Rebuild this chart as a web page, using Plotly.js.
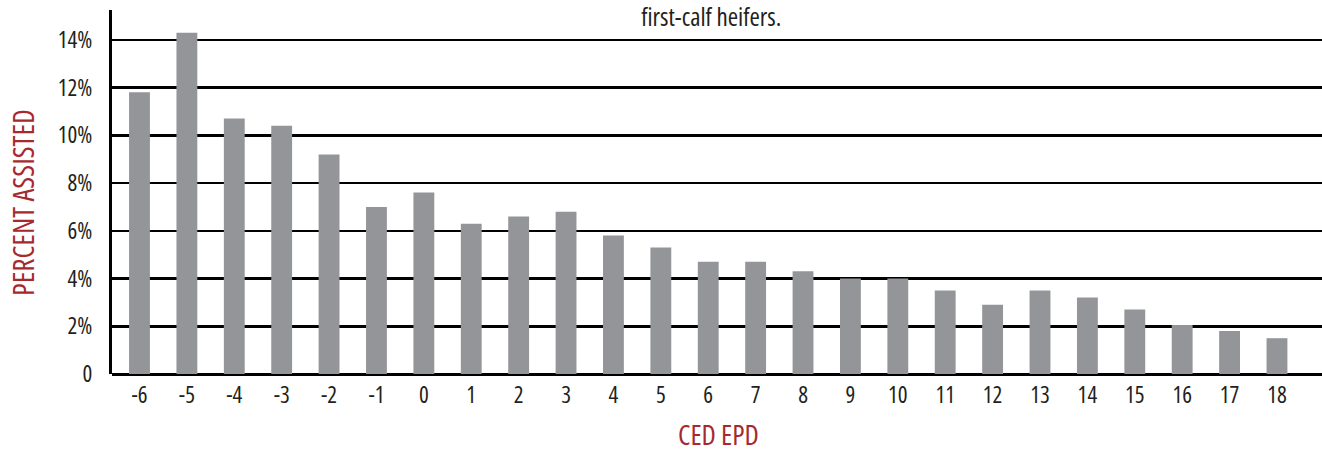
<!DOCTYPE html>
<html>
<head>
<meta charset="utf-8">
<script src="https://cdn.plot.ly/plotly-3.0.1.min.js"></script>
<style>
html,body{margin:0;padding:0;background:#fff;}
#chart{width:1322px;height:453px;}
svg text{font-stretch:75% !important;}
</style>
</head>
<body>
<div id="chart"></div>
<script>
// Data
const cedEpd = ['-6','-5','-4','-3','-2','-1','0','1','2','3','4','5','6','7','8','9','10','11','12','13','14','15','16','17','18'];
const percentAssisted = [11.8,14.3,10.7,10.4,9.2,7.0,7.6,6.3,6.6,6.8,5.8,5.3,4.7,4.7,4.3,4.0,4.0,3.5,2.9,3.5,3.2,2.7,2.05,1.8,1.5];
const yTickVals = [0,2,4,6,8,10,12,14];
const yTickText = ['0','2%','4%','6%','8%','10%','12%','14%'];
const titleText = 'first-calf heifers.';
const xTitle = 'CED EPD';
const yTitle = 'PERCENT ASSISTED';

const FONT = '"Open Sans", "Liberation Sans", sans-serif';
const RED = '#a6292e';
const INK = '#231f20';

const trace = {
  type: 'bar',
  x: cedEpd,
  y: percentAssisted,
  marker: {color: '#939598', line: {width: 0}},
  hoverinfo: 'x+y'
};

const layout = {
  width: 1322,
  height: 453,
  margin: {l: 112, r: 0, t: 10, b: 79, pad: 0},
  paper_bgcolor: '#ffffff',
  plot_bgcolor: '#ffffff',
  bargap: 0.56,
  showlegend: false,
  font: {family: FONT, color: INK, size: 22},
  title: {
    text: titleText,
    font: {family: FONT, size: 25, color: INK},
    x: 0.538, xref: 'container', xanchor: 'center',
    y: 0.962, yref: 'container', yanchor: 'middle'
  },
  xaxis: {
    type: 'category',
    range: [-0.58, 24.95],
    showgrid: false,
    zeroline: false,
    showline: false,
    ticks: '',
    tickfont: {family: FONT, size: 23, color: INK},
    ticklabelstandoff: 5,
    fixedrange: true
  },
  yaxis: {
    range: [0, 15.25],
    tickvals: yTickVals,
    ticktext: yTickText,
    showgrid: true,
    gridcolor: '#000000',
    gridwidth: 2.5,
    zeroline: true,
    zerolinecolor: '#000000',
    zerolinewidth: 3,
    showline: true,
    linecolor: '#000000',
    linewidth: 3,
    ticks: '',
    tickfont: {family: FONT, size: 23, color: INK},
    ticklabelstandoff: 12,
    fixedrange: true
  },
  annotations: [
    {
      text: yTitle,
      xref: 'paper', yref: 'paper',
      x: 0, xshift: -89, y: 0.47,
      xanchor: 'center', yanchor: 'middle',
      textangle: -90,
      showarrow: false,
      font: {family: FONT, size: 29, color: RED}
    },
    {
      text: xTitle,
      xref: 'paper', yref: 'paper',
      x: 0.5009, y: 0, yshift: -60,
      xanchor: 'center', yanchor: 'middle',
      showarrow: false,
      font: {family: FONT, size: 28, color: RED}
    }
  ]
};

Plotly.newPlot('chart', [trace], layout, {displayModeBar: false, staticPlot: true});
</script>
</body>
</html>
